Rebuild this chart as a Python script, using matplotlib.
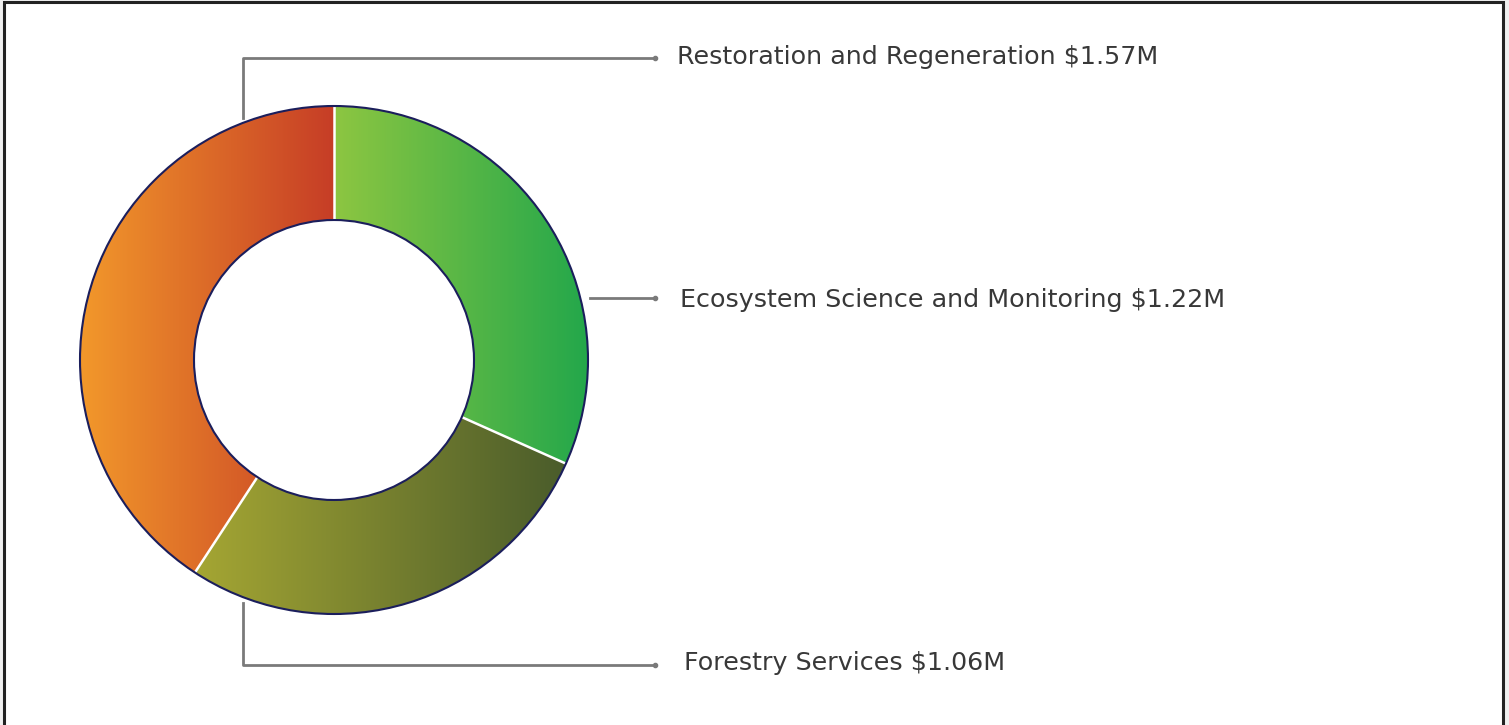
import numpy as np
import matplotlib
matplotlib.use("Agg")
import matplotlib.pyplot as plt
from matplotlib.patches import Wedge, Circle, Rectangle
from matplotlib.colors import LinearSegmentedColormap

# data (clockwise from 12 o'clock)
labels = ["Ecosystem Science and Monitoring", "Forestry Services", "Restoration and Regeneration"]
values = [1.22, 1.06, 1.57]
grad_left = ["#8DC641", "#A5A633", "#F39A2B"]
grad_right = ["#22A74B", "#4A5C2B", "#C63D26"]

W, H = 1509, 725
fig = plt.figure(figsize=(W / 100, H / 100), dpi=100, facecolor="#F0F0F0")
ax = fig.add_axes([0, 0, 1, 1])
ax.set_xlim(0, W)
ax.set_ylim(0, H)
ax.set_aspect("equal")
ax.axis("off")

cx, cy = 334, H - 360
r_out, r_in = 254, 140

total = sum(values)
start = 90.0
bounds = []
for i, v in enumerate(values):
    span = v / total * 360
    t1, t2 = start - span, start
    wd = Wedge((cx, cy), r_out, t1, t2, width=r_out - r_in, facecolor="none", edgecolor="none")
    ax.add_patch(wd)
    # horizontal gradient across the slice's bbox
    verts = wd.get_path().vertices
    xmin, xmax = verts[:, 0].min(), verts[:, 0].max()
    ymin, ymax = verts[:, 1].min(), verts[:, 1].max()
    cmap = LinearSegmentedColormap.from_list("g%d" % i, [grad_left[i], grad_right[i]])
    grad = np.linspace(0, 1, 256).reshape(1, -1)
    im = ax.imshow(grad, cmap=cmap, extent=[xmin, xmax, ymin, ymax], aspect="auto",
                   interpolation="bicubic", zorder=1)
    im.set_clip_path(wd)
    bounds.append(t1)
    start = t1

# white separators
for t in [90.0] + bounds[:-1]:
    a = np.deg2rad(t)
    ax.plot([cx + r_in * np.cos(a), cx + r_out * np.cos(a)],
            [cy + r_in * np.sin(a), cy + r_out * np.sin(a)],
            color="white", lw=1.8, zorder=2, solid_capstyle="butt")

# navy rims
for r in (r_out, r_in):
    ax.add_patch(Circle((cx, cy), r, facecolor="none", edgecolor="#1B1E5C", lw=1.5, zorder=3))

# leader lines and labels
lc = "#7A7A7A"
ax.plot([243, 243, 655], [H - 118, H - 58, H - 58], color=lc, lw=2, zorder=2)
ax.plot([590, 655], [H - 298, H - 298], color=lc, lw=2, zorder=2)
ax.plot([243, 243, 655], [H - 603, H - 665, H - 665], color=lc, lw=2, zorder=2)
for px, py in [(655, 58), (655, 298), (655, 665)]:
    ax.plot(px, H - py, "o", color=lc, ms=3, zorder=2)

txt_pos = {labels[2]: (677, 57), labels[0]: (680, 300), labels[1]: (684, 663)}
for lab, v in zip(labels, values):
    px, py = txt_pos[lab]
    ax.text(px, H - py, "%s $%.2fM" % (lab, v), fontsize=18.3, color="#383838",
            ha="left", va="center", family="DejaVu Sans")

# outer frame
fig.patches.append(Rectangle((4 / W, -0.05), 1499 / W, 1.05 - 2 / H, transform=fig.transFigure,
                             facecolor="white", edgecolor="#222222", lw=2.2, zorder=-1))

fig.savefig("out.png", dpi=100, facecolor=fig.get_facecolor())
